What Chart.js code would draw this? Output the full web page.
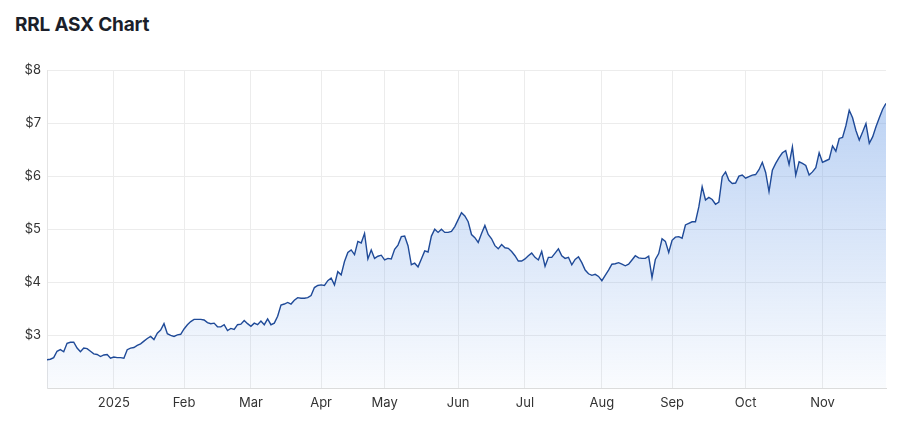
<!DOCTYPE html>
<html>
<head>
<meta charset="utf-8">
<script src="https://cdn.jsdelivr.net/npm/chart.js@4"></script>
<style>
  html, body { margin: 0; padding: 0; background: #fff; }
  #wrap { position: relative; width: 900px; height: 436px; }
  #title {
    position: absolute; left: 15px; top: 13px;
    font: 700 19px Inter, "Noto Sans", sans-serif;
    color: #1b1f2a; letter-spacing: -0.2px;
  }
  canvas { position: absolute; left: 0; top: 0; }
</style>
</head>
<body>
<div id="wrap">
  <div id="title">RRL ASX Chart</div>
  <canvas id="chart" width="900" height="436"></canvas>
</div>
<script>
// closing price, one value per trading day (early Dec 2024 -> late Nov 2025)
const prices = [
  2.54, 2.55, 2.58, 2.70, 2.73, 2.69, 2.85, 2.87, 2.87, 2.76,
  2.69, 2.76, 2.75, 2.70, 2.65, 2.64, 2.60, 2.63, 2.64, 2.57,
  2.59, 2.58, 2.58, 2.57, 2.73, 2.76, 2.77, 2.81, 2.84, 2.89,
  2.94, 2.98, 2.92, 3.04, 3.10, 3.22, 3.03, 3.00, 2.98, 3.01,
  3.02, 3.12, 3.20, 3.26, 3.30, 3.30, 3.30, 3.29, 3.24, 3.22,
  3.23, 3.16, 3.16, 3.20, 3.09, 3.13, 3.11, 3.20, 3.21, 3.28,
  3.22, 3.17, 3.23, 3.20, 3.27, 3.20, 3.31, 3.20, 3.23, 3.36,
  3.57, 3.59, 3.62, 3.59, 3.66, 3.71, 3.70, 3.70, 3.71, 3.75,
  3.90, 3.94, 3.95, 3.94, 4.03, 4.08, 3.95, 4.20, 4.14, 4.39,
  4.56, 4.61, 4.52, 4.77, 4.74, 4.92, 4.44, 4.61, 4.45, 4.49,
  4.51, 4.42, 4.45, 4.44, 4.62, 4.70, 4.86, 4.87, 4.69, 4.33,
  4.36, 4.29, 4.44, 4.59, 4.57, 4.87, 5.00, 4.94, 5.00, 4.94,
  4.94, 4.96, 5.05, 5.18, 5.31, 5.25, 5.14, 4.90, 4.84, 4.75,
  4.92, 5.07, 4.90, 4.82, 4.69, 4.63, 4.71, 4.65, 4.64, 4.58,
  4.50, 4.40, 4.40, 4.44, 4.50, 4.55, 4.47, 4.42, 4.58, 4.30,
  4.47, 4.47, 4.55, 4.63, 4.50, 4.45, 4.47, 4.33, 4.43, 4.48,
  4.37, 4.23, 4.16, 4.13, 4.15, 4.11, 4.03, 4.13, 4.23, 4.34,
  4.35, 4.37, 4.34, 4.31, 4.34, 4.42, 4.50, 4.46, 4.45, 4.45,
  4.49, 4.09, 4.43, 4.54, 4.82, 4.77, 4.56, 4.79, 4.85, 4.86,
  4.83, 5.08, 5.11, 5.14, 5.14, 5.42, 5.80, 5.55, 5.60, 5.56,
  5.47, 5.51, 5.99, 6.08, 5.92, 5.86, 5.87, 6.00, 6.02, 5.96,
  5.99, 6.02, 6.03, 6.12, 6.26, 6.07, 5.71, 6.11, 6.24, 6.35,
  6.44, 6.48, 6.22, 6.55, 6.02, 6.27, 6.24, 6.20, 6.02, 6.08,
  6.16, 6.44, 6.26, 6.29, 6.32, 6.57, 6.47, 6.71, 6.73, 6.95,
  7.24, 7.10, 6.86, 6.68, 6.83, 6.99, 6.62, 6.74, 6.93, 7.10,
  7.26, 7.37
];

// first trading day of each month (index into prices) and its label
const monthStarts = [20, 41, 61, 82, 101, 123, 143, 166, 187, 209, 232];
const monthLabels = ['2025', 'Feb', 'Mar', 'Apr', 'May', 'Jun', 'Jul', 'Aug', 'Sep', 'Oct', 'Nov'];

const yTicks = [3, 4, 5, 6, 7, 8];

const points = prices.map((p, i) => ({ x: i, y: p }));

const ctx = document.getElementById('chart');

new Chart(ctx, {
  type: 'line',
  data: {
    datasets: [{
      data: points,
      borderColor: '#1f4a98',
      borderWidth: 1.4,
      pointRadius: 0,
      tension: 0,
      fill: 'start',
      backgroundColor: function(context) {
        const chart = context.chart;
        const area = chart.chartArea;
        if (!area) return 'rgba(120,165,235,0.3)';
        const g = chart.ctx.createLinearGradient(0, area.top, 0, area.bottom);
        g.addColorStop(0, 'rgba(120,165,232,0.55)');
        g.addColorStop(1, 'rgba(120,165,232,0.04)');
        return g;
      }
    }]
  },
  options: {
    responsive: false,
    animation: false,
    layout: { padding: { top: 70, left: 15, right: 14, bottom: 18 } },
    plugins: {
      legend: { display: false },
      tooltip: { enabled: false }
    },
    scales: {
      x: {
        type: 'linear',
        min: 0,
        max: prices.length - 1,
        afterBuildTicks: scale => {
          scale.ticks = monthStarts.map(v => ({ value: v }));
        },
        ticks: {
          autoSkip: false,
          maxRotation: 0,
          padding: 7,
          color: '#333',
          font: { family: 'Inter', size: 13 },
          callback: v => monthLabels[monthStarts.indexOf(v)]
        },
        grid: { color: '#ececec', drawTicks: false },
        border: { color: '#dcdcdc' }
      },
      y: {
        min: 2,
        max: 8,
        afterBuildTicks: scale => {
          scale.ticks = yTicks.map(v => ({ value: v }));
        },
        afterFit: scale => { scale.width = 32; },
        ticks: {
          padding: 6,
          color: '#333',
          font: { family: 'Inter', size: 13 },
          callback: v => '$' + v
        },
        grid: { color: '#ececec', drawTicks: false },
        border: { color: '#e4e4e4' }
      }
    }
  }
});
</script>
</body>
</html>
